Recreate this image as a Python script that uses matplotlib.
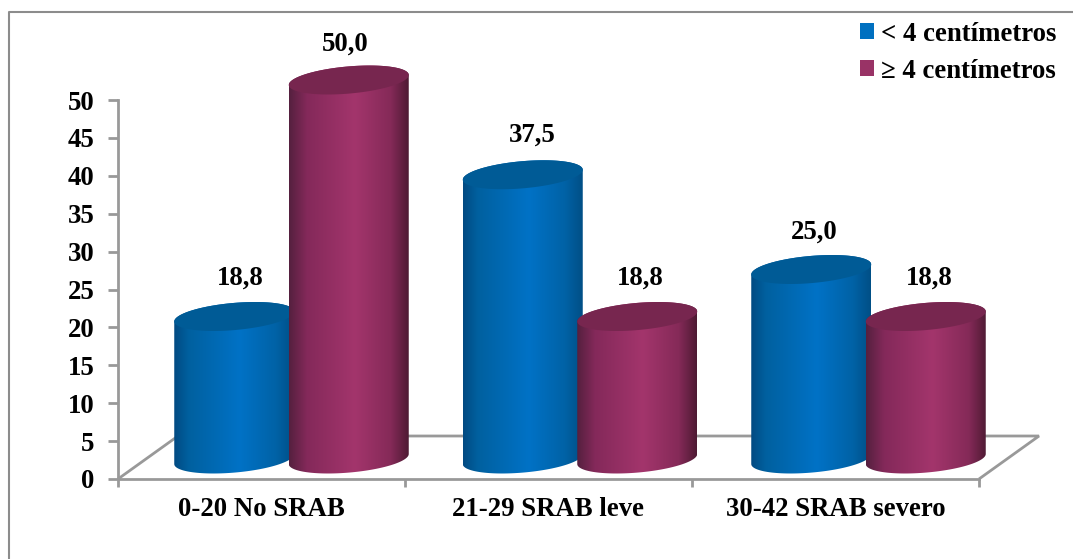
import numpy as np
import matplotlib
matplotlib.use("Agg")
import matplotlib.pyplot as plt
from matplotlib.colors import LinearSegmentedColormap
from matplotlib.lines import Line2D
from matplotlib.patches import Patch, Polygon

categories = ["0-20 No SRAB", "21-29 SRAB leve", "30-42 SRAB severo"]
series_names = ["< 4 centímetros", "≥ 4 centímetros"]
menor_4 = [18.8, 37.5, 25.0]
mayor_4 = [50.0, 18.8, 18.8]
y_ticks = [0, 5, 10, 15, 20, 25, 30, 35, 40, 45, 50]

plt.rcParams["font.family"] = ["Liberation Serif", "DejaVu Serif"]
plt.rcParams["font.weight"] = "bold"

W, H = 1073, 559
fig = plt.figure(figsize=(W / 100, H / 100), dpi=100)
# plot wall in pixels: x 118-979, y 100-479
ax = fig.add_axes([118 / W, 1 - 479 / H, (979 - 118) / W, (479 - 100) / H])
ax.set_zorder(1)
ax.patch.set_alpha(0)

xpx = 3 / (979 - 118)   # data units per pixel
ypx = 50 / (479 - 100)

blue_cm = LinearSegmentedColormap.from_list("b", [(0, "#024a82"), (0.12, "#00609f"), (0.55, "#0072c6"),
                                                  (0.85, "#0062a6"), (1, "#004f86")])
red_cm = LinearSegmentedColormap.from_list("r", [(0, "#55203f"), (0.15, "#84295a"), (0.55, "#a3356c"),
                                                 (0.85, "#852a58"), (1, "#4e1a33")])
grad = np.linspace(0, 1, 256).reshape(1, -1)


def cylinder(xc, value, cmap, top_color, z):
    a = 60 * xpx
    k = 5 * ypx
    b = 13.6 * ypx
    x0 = xc + 30 * xpx
    y0 = 20 * ypx
    t1 = np.linspace(np.pi, 2 * np.pi, 80)
    t2 = np.linspace(0, np.pi, 80)
    xs = np.r_[x0 + a * np.cos(t1), x0 + a * np.cos(t2)]
    ys = np.r_[y0 + k * np.cos(t1) + b * np.sin(t1), y0 + value + k * np.cos(t2) + b * np.sin(t2)]
    body = Polygon(np.c_[xs, ys], closed=True, fc="none", ec="none", clip_on=False)
    ax.add_patch(body)
    im = ax.imshow(grad, cmap=cmap, aspect="auto", zorder=z,
                   extent=[x0 - a, x0 + a, y0 - b - k, y0 + value + b + k])
    im.set_clip_path(body)
    im.set_clip_box(fig.bbox)
    t = np.linspace(0, 2 * np.pi, 160)
    top = np.c_[x0 + a * np.cos(t), y0 + value + k * np.cos(t) + b * np.sin(t)]
    ax.add_patch(Polygon(top, closed=True, fc=top_color, ec="none", zorder=z + 0.1, clip_on=False))
    return x0, y0 + value


# floor of the 3d chart
grey = "#999999"
floor = [(0, 0), (60 * xpx, 43 * ypx), (3 + 60 * xpx, 43 * ypx), (3, 0)]
ax.add_patch(Polygon([(p[0] - 0.5, p[1]) for p in floor], closed=False, fc="none", ec=grey, lw=2,
                     zorder=1, clip_on=False))

label_off = {0: [(6, 38), (10, 40), (3, 37)], 1: [(-3.5, 36), (3, 38), (3, 38)]}
sep = 57.25 * xpx
fs = 19.3
for i in range(3):
    for s, (vals, cm, top_c) in enumerate([(menor_4, blue_cm, "#005b96"), (mayor_4, red_cm, "#77264f")]):
        xc = i + (-sep if s == 0 else sep) + i * 1.5 * xpx
        xt, yt = cylinder(xc, vals[i], cm, top_c, 3 + s + i * 2)
        dx, dy = label_off[s][i]
        ax.annotate(f"{vals[i]:.1f}".replace(".", ","), (xt, yt), xytext=(dx * 0.72, dy * 0.72),
                    textcoords="offset points", ha="center", va="center", fontsize=fs,
                    fontweight="bold", zorder=20, annotation_clip=False)

ax.set_xlim(-0.5, 2.5)
ax.set_ylim(0, 50)
ax.set_xticks(range(3))
ax.set_xticklabels(categories, fontsize=fs, fontweight="bold")
ax.set_xticks([-0.5, 0.5, 1.5, 2.5], minor=True)
ax.tick_params(axis="x", which="major", length=0, pad=13)
ax.tick_params(axis="x", which="minor", length=6, width=2, color=grey)
ax.set_yticks(y_ticks)
ax.tick_params(axis="y", length=7, width=2, color=grey, labelsize=fs, pad=10)
for lab in ax.get_yticklabels():
    lab.set_fontweight("bold")
for side in ["top", "right"]:
    ax.spines[side].set_visible(False)
for side in ["left", "bottom"]:
    ax.spines[side].set_color(grey)
    ax.spines[side].set_linewidth(2)

handles = [Patch(fc="#0070c0", ec="none"), Patch(fc="#993366", ec="none")]
leg = fig.legend(handles, series_names, loc="upper right", bbox_to_anchor=(1075 / W, 1 - 3 / H),
                 frameon=False, handlelength=0.52, handleheight=0.52, handletextpad=0.25, labelspacing=0.44,
                 borderpad=0.2, prop={"family": "Liberation Serif", "weight": "bold", "size": fs})

# outer frame: only left and top edges fall inside the picture
fig.add_artist(Line2D([9 / W, 9 / W, 1], [0, 1 - 12 / H, 1 - 12 / H], transform=fig.transFigure,
                      color="#8c8c8c", lw=1.5))

fig.savefig("out.png", dpi=100)
